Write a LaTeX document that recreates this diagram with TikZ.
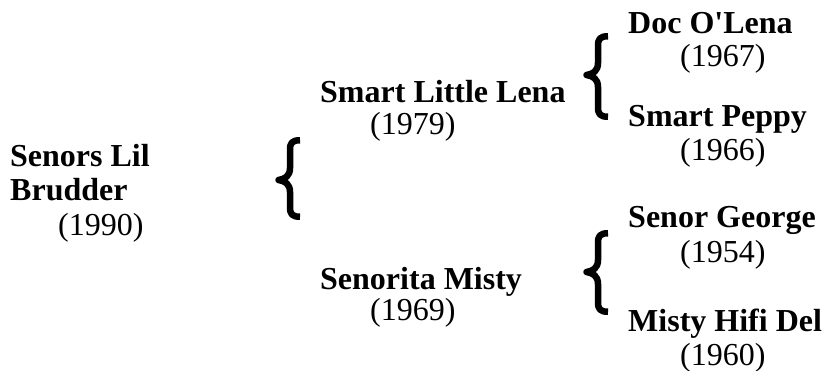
\documentclass[tikz,border=0pt]{standalone}
\usepackage{fontspec}
\setmainfont{Liberation Serif}
\tikzset{
  horse/.style={font=\fontsize{32}{34}\selectfont\bfseries, inner sep=0pt, anchor=base west, align=left},
  year/.style={font=\fontsize{32}{34}\selectfont, inner sep=0pt, anchor=base west},
  bracestroke/.style={line width=6.5pt, line join=round, line cap=butt, black}
}
% brace: #1 stem x, #2 top y, #3 tip y, #4 bottom y
\newcommand{\pedbrace}[4]{%
  \draw[bracestroke] ({#1+10},{#2+3.25})
    .. controls ({#1+2},{#2+3.25}) and ({#1},{#2+6}) .. ({#1},{#2+13})
    -- ({#1},{#3-12})
    .. controls ({#1},{#3-4}) and ({#1-5},{#3-1}) .. ({#1-11.5},{#3})
    .. controls ({#1-5},{#3+1}) and ({#1},{#3+4}) .. ({#1},{#3+12})
    -- ({#1},{#4-13})
    .. controls ({#1},{#4-6}) and ({#1+2},{#4-3.25}) .. ({#1+10},{#4-3.25});
}
\begin{document}
\begin{tikzpicture}[x=1pt,y=-1pt]
\useasboundingbox (0,0) rectangle (824,371);
% generation 1
\node[horse] (slb) at (10,201) {Senors Lil\\Brudder};
\node[year] (slby) at (58,236) {(1990)};
% generation 2
\node[horse] (sll) at (320,103) {Smart Little Lena};
\node[year] (slly) at (370,135) {(1979)};
\node[horse] (sm) at (320,290) {Senorita Misty};
\node[year] (smy) at (370,320) {(1969)};
% generation 3
\node[horse] (dol) at (628,34) {Doc O\textquotesingle Lena};
\node[year] (doly) at (680,67) {(1967)};
\node[horse] (sp) at (628,127) {Smart Peppy};
\node[year] (spy) at (680,161) {(1966)};
\node[horse] (sg) at (628,228) {Senor George};
\node[year] (sgy) at (680,262) {(1954)};
\node[horse] (mhd) at (628,331) {Misty Hifi Del};
\node[year] (mhdy) at (680,365) {(1960)};
% braces
\pedbrace{290}{137}{180}{220}
\pedbrace{598}{33}{75}{120}
\pedbrace{598}{230}{272}{315}
\end{tikzpicture}
\end{document}
